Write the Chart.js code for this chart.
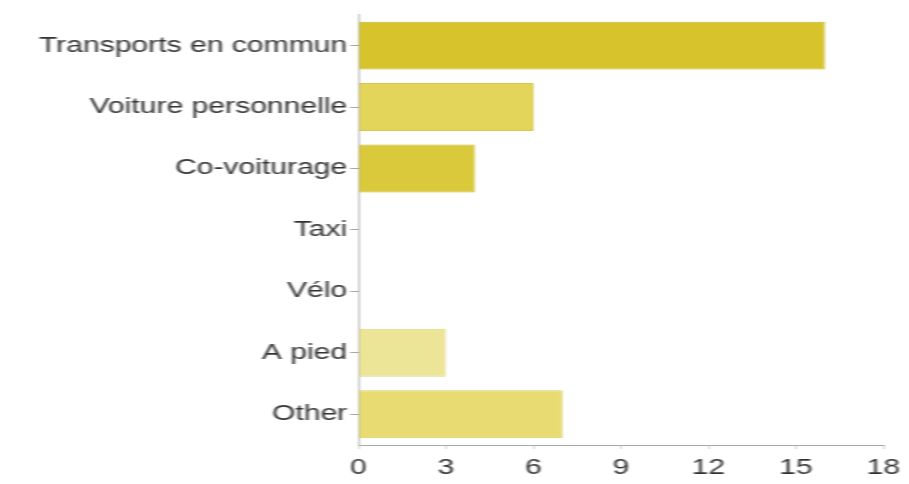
<!DOCTYPE html>
<html>
<head>
<meta charset="utf-8">
<script src="https://cdn.jsdelivr.net/npm/chart.js@4/dist/chart.umd.min.js"></script>
<style>
  html, body { margin: 0; padding: 0; background: #ffffff; overflow: hidden; }
  /* the chart is laid out narrow and widened horizontally, giving the broad lettering */
  #wrap {
    position: absolute; left: 0; top: 0;
    width: 649px; height: 484px;
    transform: scaleX(1.4); transform-origin: 0 0;
    filter: blur(0.6px);
  }
</style>
</head>
<body>
<div id="wrap"><canvas id="chart"></canvas></div>
<script>
const categories = ['Transports en commun', 'Voiture personnelle', 'Co-voiturage', 'Taxi', 'Vélo', 'A pied', 'Other'];
const responses = [16, 6, 4, 0, 0, 3, 7];
const barColors = ['#d7c42c', '#e3d45a', '#dac93a', '#e6da6a', '#e6da6a', '#ece496', '#e7db72'];
const barEdges  = ['#c9b520', '#d6c64c', '#cdbb2e', '#d9cc5c', '#d9cc5c', '#e0d786', '#dacd62'];
const xTicks = [0, 3, 6, 9, 12, 15, 18];

const labelFont = { family: '"Liberation Sans", Arial, Helvetica, sans-serif', size: 21.5 };

new Chart(document.getElementById('chart'), {
  type: 'bar',
  data: {
    labels: categories,
    datasets: [{
      data: responses,
      backgroundColor: barColors,
      borderColor: barEdges,
      borderWidth: 1,
      borderSkipped: 'left',
      barPercentage: 0.78,
      categoryPercentage: 1.0
    }]
  },
  options: {
    indexAxis: 'y',
    responsive: true,
    maintainAspectRatio: false,
    animation: false,
    layout: { padding: { top: 12, right: 16, bottom: 0, left: 0 } },
    plugins: { legend: { display: false }, tooltip: { enabled: false } },
    scales: {
      x: {
        min: xTicks[0],
        max: xTicks[xTicks.length - 1],
        afterBuildTicks(scale) { scale.ticks = xTicks.map(v => ({ value: v })); },
        afterFit(scale) { scale.height = 39; },
        border: { display: true, color: '#a8a8a8', width: 1 },
        grid: { drawOnChartArea: false, drawTicks: true, tickLength: 4, color: '#c8c8c8' },
        ticks: { color: '#333333', font: labelFont, padding: 6, maxRotation: 0 }
      },
      y: {
        afterFit(scale) { scale.width = 256; },
        border: { display: true, color: '#a8a8a8', width: 1 },
        grid: { drawOnChartArea: false, drawTicks: true, tickLength: 6, offset: false, color: '#a8a8a8' },
        ticks: { color: '#333333', font: labelFont, padding: 2, autoSkip: false }
      }
    }
  }
});
</script>
</body>
</html>
